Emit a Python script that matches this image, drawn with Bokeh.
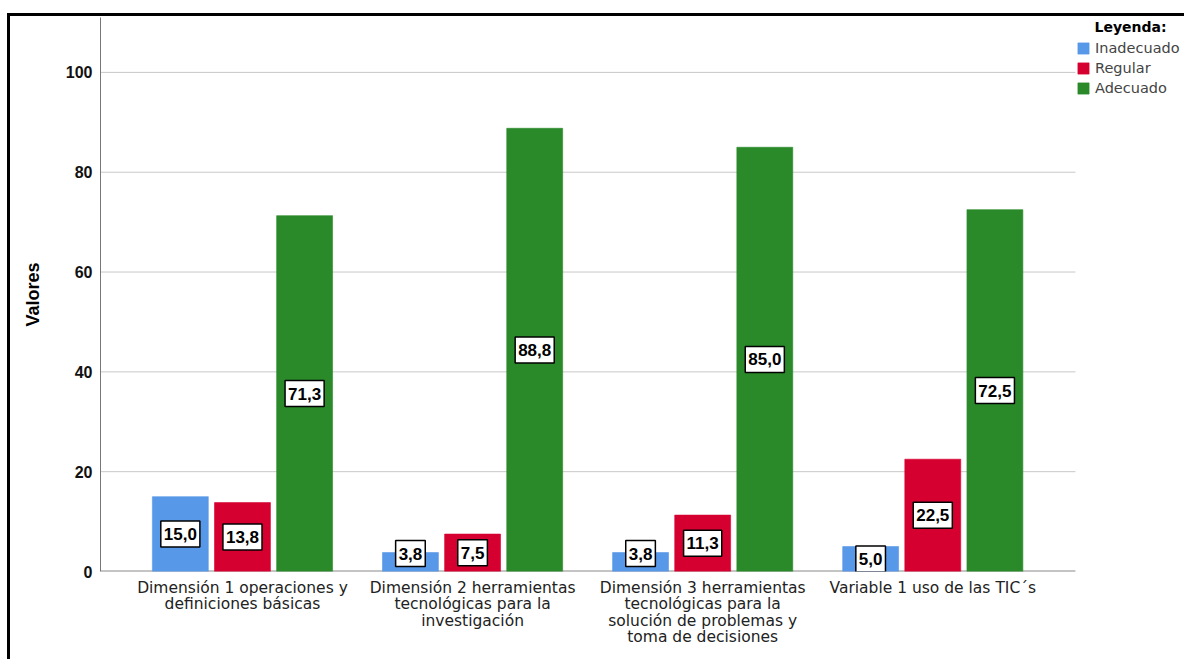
import numpy as np
from bokeh.plotting import figure
from bokeh.models import Range1d, FixedTicker, Legend, LegendItem, ColumnDataSource, Label
from bokeh.core.properties import value
from bokeh.embed import file_html
from bokeh.resources import INLINE

categories = [
    "Dimensión 1 operaciones y\ndefiniciones básicas",
    "Dimensión 2 herramientas\ntecnológicas para la\ninvestigación",
    "Dimensión 3 herramientas\ntecnológicas para la\nsolución de problemas y\ntoma de decisiones",
    "Variable 1 uso de las TIC´s",
]
series_names = ["Inadecuado", "Regular", "Adecuado"]
inadecuado = [15.0, 3.8, 3.8, 5.0]
regular = [13.8, 7.5, 11.3, 22.5]
adecuado = [71.3, 88.8, 85.0, 72.5]
y_ticks = [0, 20, 40, 60, 80, 100]
legend_title = "Leyenda:"

colors = ["#5898e8", "#d60030", "#2a8a2a"]
series = [inadecuado, regular, adecuado]
offsets = [-0.27, 0.0, 0.27]
FONT = "Liberation Sans"
FONT2 = "DejaVu Sans"

X0, X1, XEND = -0.617, 3.62, 4.107
YMAX = 111

p = figure(width=1177, height=646, output_backend="svg", toolbar_location=None,
           x_range=Range1d(X0, XEND), y_range=Range1d(0, YMAX),
           min_border_left=90, min_border_top=1, min_border_bottom=91, min_border_right=0)
p.styles = {"border-top": "3px solid black", "border-left": "3px solid black",
            "margin-top": "13px", "margin-left": "7px"}
p.outline_line_color = None
p.background_fill_color = "white"

# gridlines + baseline (ending where the plotting area ends, legend sits to the right)
p.segment(x0=[X0] * (len(y_ticks) - 1), x1=[X1] * (len(y_ticks) - 1), y0=y_ticks[1:], y1=y_ticks[1:],
          line_color="#c8c8c8", line_width=1)
p.segment(x0=[X0], x1=[X1], y0=[0], y1=[0], line_color="#8a8a8a", line_width=2)

idx = np.arange(len(categories))
items = []
for name, vals, col, off in zip(series_names, series, colors, offsets):
    v = np.array(vals)
    src = ColumnDataSource(dict(x=idx + off, top=v,
                                ly=np.where(v < 4.5, v - 0.2, v / 2),
                                lab=[f"{a:.1f}".replace(".", ",") for a in v]))
    r = p.vbar(x="x", top="top", width=0.243, bottom=0, source=src, fill_color=col,
               line_color=col, line_alpha=0.6)
    items.append(LegendItem(label=name, renderers=[r]))
    p.text(x="x", y="ly", text="lab", source=src, text_align="center", text_baseline="middle",
           text_font=value(FONT), text_font_style="bold", text_font_size="17px", text_color="black",
           background_fill_color="white", border_line_color="black", border_line_width=1.5,
           padding=(3, 7))

# axes
p.xaxis.ticker = FixedTicker(ticks=list(idx))
p.xaxis.major_label_overrides = {int(i): c for i, c in zip(idx, categories)}
p.xaxis.major_label_text_font = FONT2
p.xaxis.major_label_text_font_size = "15.5px"
p.xaxis.major_label_text_color = "#222222"
p.xaxis.major_label_text_line_height = 0.92
p.xaxis.major_tick_line_color = None
p.xaxis.major_tick_out = 0
p.xaxis.minor_tick_line_color = None
p.xaxis.axis_line_color = None
p.xaxis.major_label_standoff = 7

p.yaxis.ticker = FixedTicker(ticks=y_ticks)
p.yaxis.major_label_text_font = FONT
p.yaxis.major_label_text_font_style = "bold"
p.yaxis.major_label_text_font_size = "16px"
p.yaxis.major_label_text_color = "#111111"
p.yaxis.major_tick_line_color = None
p.yaxis.major_tick_out = 0
p.yaxis.minor_tick_line_color = None
p.yaxis.axis_line_color = "#777777"
p.yaxis.major_label_standoff = 8
p.yaxis.axis_label = "Valores"
p.yaxis.axis_label_text_font = FONT
p.yaxis.axis_label_text_font_style = "bold"
p.yaxis.axis_label_text_font_size = "18px"
p.yaxis.axis_label_text_color = "black"
p.yaxis.axis_label_standoff = 20

p.xgrid.grid_line_color = None
p.ygrid.grid_line_color = None

legend = Legend(items=items, location=(976, 475), margin=0, padding=0,
                spacing=4, glyph_width=14, glyph_height=14, label_text_font=FONT2,
                label_text_font_size="14.5px", label_height=14, label_standoff=5,
                border_line_color=None, background_fill_alpha=0)
p.add_layout(legend)

# legend title aligned with the legend labels
p.add_layout(Label(x=X1 + 0.083, y=YMAX - 2, text=legend_title, text_font=FONT2,
                   text_font_style="bold", text_font_size="14px", text_color="black",
                   text_baseline="middle", text_align="left"))

open("out.html", "w").write(file_html(p, INLINE))
